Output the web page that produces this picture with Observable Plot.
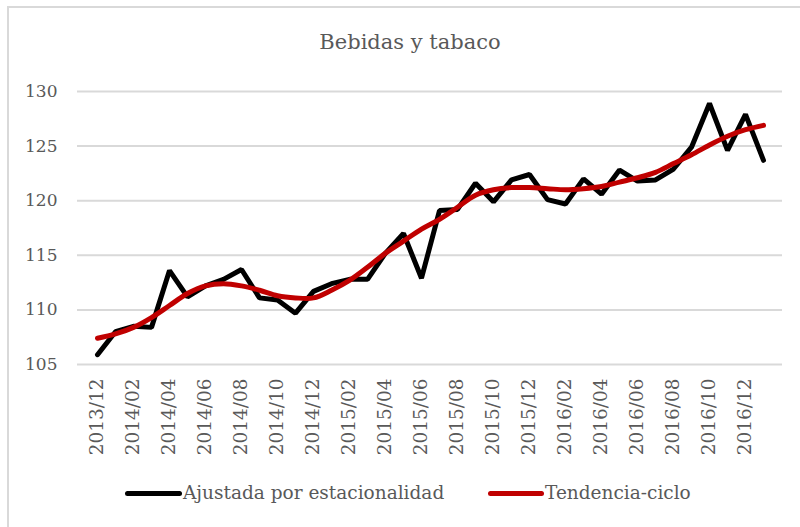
<!DOCTYPE html>
<html>
<head>
<meta charset="utf-8">
<script src="https://cdn.jsdelivr.net/npm/d3@7"></script>
<script src="https://cdn.jsdelivr.net/npm/@observablehq/plot@0.6"></script>
<style>
  html, body { margin: 0; padding: 0; background: #fff; }
  #wrap { position: relative; width: 800px; height: 527px; overflow: hidden; font-family: "DejaVu Serif", serif; color: #595959; }
  #frame { position: absolute; left: 7px; top: 6px; width: 820px; height: 560px; border: 2px solid #d9d9d9; box-sizing: border-box; }
  #title { position: absolute; left: 0; width: 820px; top: 29px; text-align: center; font-size: 21px; line-height: 26px; }
  #chart { position: absolute; left: 0; top: 0; }
  #legend { position: absolute; top: 481px; left: 0; width: 800px; font-size: 18.5px; line-height: 24px; }
  .item { position: absolute; display: flex; align-items: center; }
  .sw { height: 5px; border-radius: 3px; margin-right: 1px; }
</style>
</head>
<body>
<div id="wrap">
  <div id="frame"></div>
  <div id="title">Bebidas y tabaco</div>
  <div id="chart"></div>
  <div id="legend">
    <div class="item" style="left:125px"><div class="sw" style="width:57px;background:#000"></div><span>Ajustada por estacionalidad</span></div>
    <div class="item" style="left:488px"><div class="sw" style="width:56px;background:#c00000"></div><span>Tendencia-ciclo</span></div>
  </div>
</div>
<script>
const months = [
  "2013/12","2014/01","2014/02","2014/03","2014/04","2014/05","2014/06","2014/07","2014/08","2014/09","2014/10","2014/11",
  "2014/12","2015/01","2015/02","2015/03","2015/04","2015/05","2015/06","2015/07","2015/08","2015/09","2015/10","2015/11",
  "2015/12","2016/01","2016/02","2016/03","2016/04","2016/05","2016/06","2016/07","2016/08","2016/09","2016/10","2016/11",
  "2016/12","2017/01"
];
const ajustada = [
  105.9,108.0,108.5,108.4,113.6,111.2,112.2,112.8,113.7,111.1,110.9,109.7,
  111.7,112.4,112.8,112.8,115.2,117.0,112.9,119.1,119.2,121.6,119.9,121.9,
  122.4,120.1,119.7,122.0,120.6,122.8,121.8,121.9,122.9,124.9,128.9,124.6,
  127.9,123.7
];
const tendencia = [
  107.4,107.8,108.4,109.3,110.4,111.5,112.2,112.4,112.2,111.8,111.3,111.1,
  111.1,111.8,112.7,113.9,115.2,116.3,117.4,118.3,119.4,120.5,121.0,121.2,
  121.2,121.1,121.0,121.1,121.3,121.7,122.1,122.6,123.4,124.2,125.1,125.9,
  126.5,126.9
];
const yTicks = [105,110,115,120,125,130];
const xTicks = months.filter((d, i) => i % 2 === 0);

const dataA = months.map((m, i) => ({month: m, value: ajustada[i]}));
const dataT = months.map((m, i) => ({month: m, value: tendencia[i]}));

const chart = Plot.plot({
  width: 800,
  height: 470,
  marginLeft: 77,
  marginRight: 18,
  marginTop: 91,
  marginBottom: 106,
  style: {fontFamily: "'DejaVu Serif', serif", color: "#595959", background: "transparent"},
  x: {type: "point", domain: months, padding: 0.5, label: null},
  y: {domain: [105, 130], label: null},
  marks: [
    Plot.gridY(yTicks, {stroke: "#d9d9d9", strokeOpacity: 1, strokeWidth: 2}),
    Plot.axisY({ticks: yTicks, tickSize: 0, tickPadding: 20, fontSize: 17, label: null}),
    Plot.axisX({ticks: xTicks, tickSize: 0, tickRotate: -90, tickPadding: 14, fontSize: 18.5, label: null}),
    Plot.line(dataA, {x: "month", y: "value", stroke: "#000", strokeWidth: 5, strokeLinejoin: "miter", strokeLinecap: "round"}),
    Plot.line(dataT, {x: "month", y: "value", stroke: "#c00000", strokeWidth: 5, curve: "catmull-rom", strokeLinecap: "round"})
  ]
});
document.getElementById("chart").appendChild(chart);
</script>
</body>
</html>
